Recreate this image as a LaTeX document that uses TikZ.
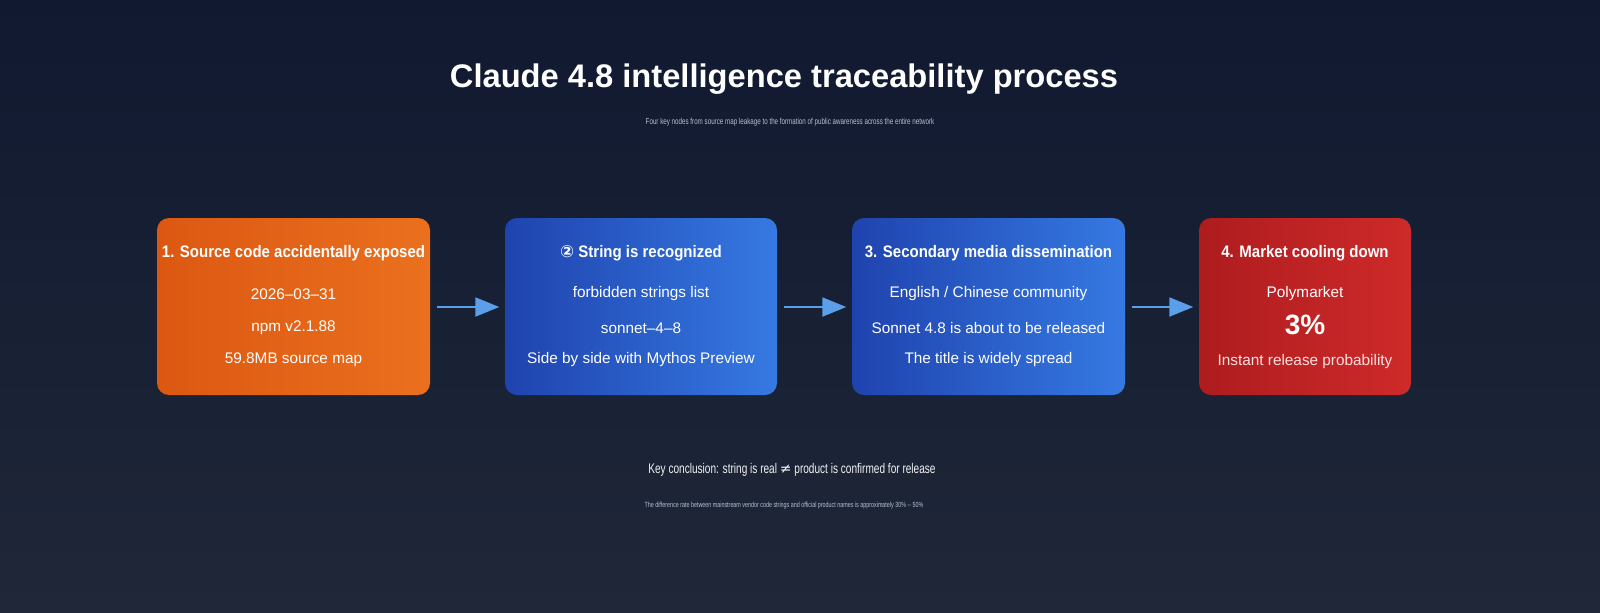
\documentclass[tikz,border=0pt]{standalone}
\usepackage{fontspec}
\setmainfont{Liberation Sans}
\newfontfamily\narrowfont[FakeStretch=0.72]{Liberation Sans}
\newfontfamily\headfont[FakeStretch=0.9]{Liberation Sans}
\newfontfamily\symfont{DejaVu Sans}
\usetikzlibrary{positioning}
\usetikzlibrary{arrows.meta}
\definecolor{bgtop}{HTML}{101930}
\definecolor{bgbot}{HTML}{1F2738}
\definecolor{orangeA}{HTML}{DC5812}
\definecolor{orangeB}{HTML}{EA701E}
\definecolor{blueA}{HTML}{1F43AE}
\definecolor{blueB}{HTML}{3679E2}
\definecolor{redA}{HTML}{AE1C1E}
\definecolor{redB}{HTML}{CE2A2A}
\definecolor{arrowblue}{HTML}{5B9EE9}
\definecolor{greytxt}{HTML}{B8BFCC}
\tikzset{
  stagebox/.style={minimum height=177*0.75pt, rounded corners=9pt, inner sep=0pt},
  boxhead/.style={text=white, font=\headfont\bfseries\fontsize{12.5}{15}\selectfont},
  boxline/.style={text=white, font=\fontsize{11.5}{14}\selectfont},
  flow/.style={-{Triangle[length=18pt,width=14pt]}, line width=2.2pt, draw=arrowblue, shorten <=5pt, shorten >=4pt}
}
\begin{document}
\begin{tikzpicture}[x=0.75pt,y=-0.75pt]
  \shade[top color=bgtop, bottom color=bgbot] (0,0) rectangle (1600,612);
  \useasboundingbox (0,0) rectangle (1600,612);
  % title
  \node[text=white, font=\bfseries\fontsize{24.5}{28}\selectfont] (title) at (784,79) {Claude 4.8 intelligence traceability process};
  \node[text=greytxt, font=\narrowfont\fontsize{6.5}{8}\selectfont] (subtitle) at (790,122) {Four key nodes from source map leakage to the formation of public awareness across the entire network};
  % stages
  \node[stagebox, minimum width=273*0.75pt, left color=orangeA, right color=orangeB] (s1) at (293.5,306.5) {};
  \node[stagebox, minimum width=272*0.75pt, left color=blueA, right color=blueB] (s2) at (641,306.5) {};
  \node[stagebox, minimum width=273*0.75pt, left color=blueA, right color=blueB] (s3) at (988.5,306.5) {};
  \node[stagebox, minimum width=212*0.75pt, left color=redA, right color=redB] (s4) at (1305,306.5) {};
  % stage texts
  \node[boxhead] at (293.5,253) {1. Source code accidentally exposed};
  \node[boxline] at (293.5,294) {2026--03--31};
  \node[boxline] at (293.5,328) {npm v2.1.88};
  \node[boxline] at (293.5,360) {59.8MB source map};
  \node[boxhead] at (641,253) {{\symfont\char"2461} String is recognized};
  \node[boxline] at (641,294) {forbidden strings list};
  \node[boxline] at (641,328) {sonnet--4--8};
  \node[boxline] at (641,360) {Side by side with Mythos Preview};
  \node[boxhead] at (988.5,253) {3. Secondary media dissemination};
  \node[boxline] at (988.5,294) {English / Chinese community};
  \node[boxline] at (988.5,328) {Sonnet 4.8 is about to be released};
  \node[boxline] at (988.5,360) {The title is widely spread};
  \node[boxhead] at (1305,253) {4. Market cooling down};
  \node[boxline] at (1305,294) {Polymarket};
  \node[text=white, font=\bfseries\fontsize{21}{24}\selectfont] at (1305,325) {3\%};
  \node[boxline, text=white!88!red] at (1305,362) {Instant release probability};
  % arrows
  \draw[flow] (s1.east |- 0,307) -- (s2.west |- 0,307);
  \draw[flow] (s2.east |- 0,307) -- (s3.west |- 0,307);
  \draw[flow] (s3.east |- 0,307) -- (s4.west |- 0,307);
  % conclusion
  \node[text=white!90!gray, font=\narrowfont\fontsize{10.5}{12}\selectfont] (concl) at (792,470) {Key conclusion: string is real {\symfont\char"2260} product is confirmed for release};
  \node[text=greytxt, font=\narrowfont\fontsize{5.6}{7}\selectfont] (note) at (784,506) {The difference rate between mainstream vendor code strings and official product names is approximately 30\% -- 50\%};
\end{tikzpicture}
\end{document}
